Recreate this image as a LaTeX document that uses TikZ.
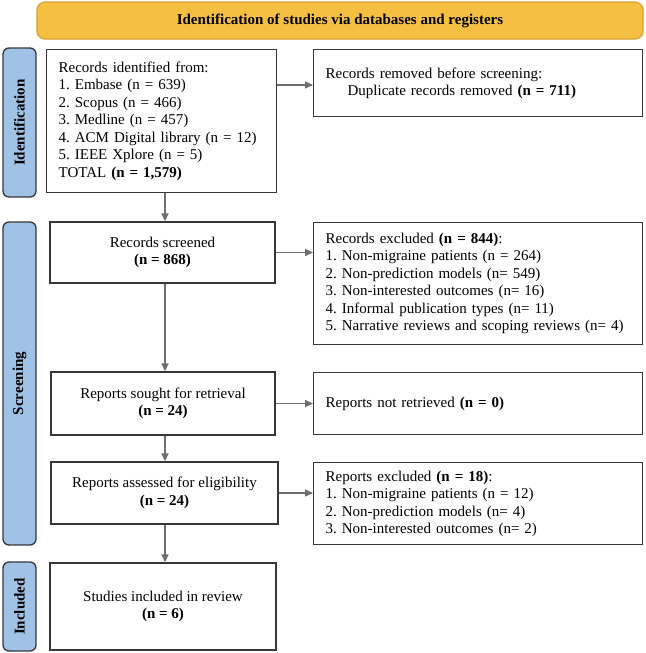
\documentclass[tikz,border=0pt]{standalone}
\usepackage{fontspec}
\setmainfont{Liberation Serif}
\usetikzlibrary{arrows.meta,calc}
\definecolor{boxline}{RGB}{55,55,55}
\definecolor{arrowgray}{RGB}{110,110,110}
\definecolor{headfill}{RGB}{245,191,66}
\definecolor{headline}{RGB}{214,160,50}
\definecolor{barfill}{RGB}{160,194,230}
\tikzset{
  basebox/.style={draw=boxline, line width=1.3pt, fill=white, inner ysep=0pt,
    font=\fontsize{15}{17.5}\selectfont},
  leftbox/.style={basebox, align=left, inner xsep=12pt, anchor=north west},
  midbox/.style={basebox, align=center, inner xsep=4pt},
  phasebar/.style={draw=boxline, line width=1.3pt, fill=barfill, rounded corners=6pt,
    rotate=90, inner sep=0pt, font=\bfseries\fontsize{15}{17}\selectfont},
  flowarrow/.style={draw=arrowgray, line width=1.4pt,
    -{Triangle[length=8pt,width=7pt]}},
}
\begin{document}
\frenchspacing
\begin{tikzpicture}[x=1pt,y=-1pt]
\useasboundingbox (0,0) rectangle (645,653);
% header
\node[draw=headline, fill=headfill, line width=1.2pt, rounded corners=8pt,
  minimum width=606pt, minimum height=37pt, inner sep=0pt,
  font=\bfseries\fontsize{15}{17}\selectfont] (header) at (340,20.5)
  {Identification of studies via databases and registers};
% phase bars
\node[phasebar, minimum width=149pt, minimum height=33pt] (barid) at (19.5,122.5) {Identification};
\node[phasebar, minimum width=323pt, minimum height=33pt] (barsc) at (19.5,383.5) {Screening};
\node[phasebar, minimum width=89pt, minimum height=33pt] (barin) at (19.5,606.5) {Included};
% boxes
\node[leftbox, text width=206pt, minimum height=143pt] (ident) at (46,49)
  {Records identified from:\\
   1. Embase (n = 639)\\
   2. Scopus (n = 466)\\
   3. Medline (n = 457)\\
   4. ACM Digital library (n = 12)\\
   5. IEEE Xplore (n = 5)\\
   TOTAL \textbf{(n = 1,579)}};
\node[leftbox, text width=305pt, minimum height=67pt] (removed) at (313,49)
  {Records removed before screening:\\
   \hspace*{22pt}Duplicate records removed \textbf{(n = 711)}};
\node[midbox, minimum width=225pt, minimum height=61pt] (screened) at (162.5,252.5)
  {Records screened\\ \textbf{(n = 868)}};
\node[leftbox, text width=305pt, minimum height=122pt] (excluded) at (313,222)
  {Records excluded \textbf{(n = 844)}:\\
   1. Non-migraine patients (n = 264)\\
   2. Non-prediction models (n= 549)\\
   3. Non-interested outcomes (n= 16)\\
   4. Informal publication types (n= 11)\\
   5. Narrative reviews and scoping reviews (n= 4)};
\node[midbox, minimum width=224pt, minimum height=63pt] (sought) at (163,403.5)
  {Reports sought for retrieval\\ \textbf{(n = 24)}};
\node[leftbox, text width=305pt, minimum height=62pt] (notret) at (313,372)
  {Reports not retrieved \textbf{(n = 0)}};
\node[midbox, minimum width=227pt, minimum height=62pt] (assessed) at (164.5,493)
  {Reports assessed for eligibility\\ \textbf{(n = 24)}};
\node[leftbox, text width=305pt, minimum height=82pt] (exclrep) at (313,462)
  {Reports excluded \textbf{(n = 18)}:\\
   1. Non-migraine patients (n = 12)\\
   2. Non-prediction models (n= 4)\\
   3. Non-interested outcomes (n= 2)};
\node[midbox, minimum width=226pt, minimum height=87pt] (included) at (163,606.5)
  {Studies included in review\\ \textbf{(n = 6)}};
% arrows
\coordinate (colx) at (165,0);
\draw[flowarrow] (ident.south -| colx) -- (screened.north -| colx);
\draw[flowarrow] (screened.south -| colx) -- (sought.north -| colx);
\draw[flowarrow] (sought.south -| colx) -- (assessed.north -| colx);
\draw[flowarrow] (assessed.south -| colx) -- (included.north -| colx);
\coordinate (remy) at (0,85);
\draw[flowarrow] (ident.east |- remy) -- (removed.west |- remy);
\draw[flowarrow] (screened.east) -- (screened.east -| excluded.west);
\draw[flowarrow] (sought.east) -- (sought.east -| notret.west);
\draw[flowarrow] (assessed.east) -- (assessed.east -| exclrep.west);
\end{tikzpicture}
\end{document}
